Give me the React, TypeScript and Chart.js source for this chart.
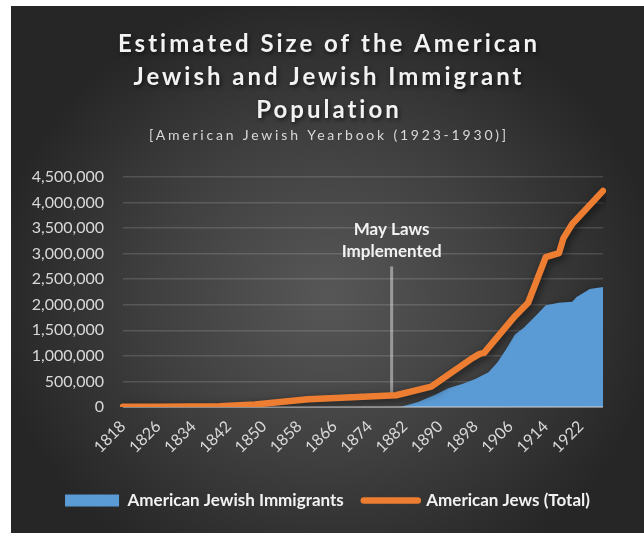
import React, { useEffect, useRef } from 'react';
import { Chart, registerables } from 'chart.js';

// ---------- data ----------
const FIRST_YEAR = 1818;
const LAST_YEAR = 1927;
const years: string[] = [];
for (let y = FIRST_YEAR; y <= LAST_YEAR; y++) years.push(String(y));

const immigrantYears = [1881, 1885, 1889, 1892, 1895, 1898, 1901, 1903, 1905, 1907, 1909, 1912, 1914, 1917, 1920, 1921, 1924, 1927];
const immigrantValues = [0, 100000, 245000, 370000, 450000, 550000, 680000, 870000, 1130000, 1420000, 1550000, 1810000, 1990000, 2040000, 2060000, 2150000, 2310000, 2350000];

const totalYears = [1818, 1826, 1840, 1848, 1860, 1880, 1888, 1897, 1899, 1900, 1907, 1910, 1914, 1917, 1918, 1920, 1927];
const totalValues = [3000, 6000, 15000, 50000, 150000, 230000, 400000, 938000, 1040000, 1058000, 1777000, 2040000, 2933000, 3010000, 3300000, 3580000, 4228000];

const Y_MIN = 0;
const Y_MAX = 4500000;
const Y_STEP = 500000;
const LABEL_EVERY = 8;

const TITLE_LINES = ['Estimated Size of the American', 'Jewish and Jewish Immigrant', 'Population'];
const SUBTITLE = '[American Jewish Yearbook (1923-1930)]';
const SERIES_NAMES = ['American Jewish Immigrants', 'American Jews (Total)'];

const ANNOTATION_YEAR = '1879';
const ANNOTATION_TOP = 2750000;
const ANNOTATION_BOTTOM = 240000;
const ANNOTATION_LINES = ['May Laws', 'Implemented'];

// ---------- styles ----------
const BLUE = '#5B9BD5';
const ORANGE = '#ED7D31';
const FONT = 'Lato, "Open Sans", sans-serif';

function toSeries(ys: number[], vs: number[]): (number | null)[] {
  const map = new Map<string, number>();
  ys.forEach((y, i) => map.set(String(y), vs[i]));
  return years.map((y) => (map.has(y) ? (map.get(y) as number) : null));
}

const shadowPlugin = {
  id: 'seriesShadow',
  beforeDatasetDraw(chart: any) {
    const ctx = chart.ctx;
    ctx.save();
    ctx.shadowColor = 'rgba(0,0,0,0.6)';
    ctx.shadowBlur = 8;
    ctx.shadowOffsetX = 2;
    ctx.shadowOffsetY = 3;
  },
  afterDatasetDraw(chart: any, args: any) {
    const ctx = chart.ctx;
    ctx.restore();
    if (args.index === 0) {
      const { left, right } = chart.chartArea;
      const y0 = chart.scales.y.getPixelForValue(0);
      ctx.save();
      ctx.strokeStyle = 'rgba(217,217,217,0.45)';
      ctx.lineWidth = 2;
      ctx.beginPath();
      ctx.moveTo(left, y0);
      ctx.lineTo(right, y0);
      ctx.stroke();
      ctx.restore();
    }
  },
};

Chart.register(shadowPlugin as any);
Chart.register(...registerables);

const titlePlugin = {
  id: 'titleBlock',
  afterDraw(chart: any) {
    const ctx = chart.ctx;
    const cx = chart.width / 2;
    ctx.save();
    ctx.textAlign = 'center';
    ctx.textBaseline = 'alphabetic';
    ctx.shadowColor = 'rgba(0,0,0,0.6)';
    ctx.shadowBlur = 4;
    ctx.shadowOffsetX = 1.5;
    ctx.shadowOffsetY = 2;
    ctx.fillStyle = '#f2f2f2';
    ctx.font = `bold 24px ${FONT}`;
    (ctx as any).letterSpacing = '3px';
    TITLE_LINES.forEach((t, i) => ctx.fillText(t, cx + 1.5, 46 + i * 33));
    ctx.shadowColor = 'transparent';
    ctx.fillStyle = '#d9d9d9';
    ctx.font = `14px ${FONT}`;
    (ctx as any).letterSpacing = '2.8px';
    ctx.fillText(SUBTITLE, cx + 1.4, 134);
    ctx.restore();
  },
};

const annotationPlugin = {
  id: 'mayLaws',
  beforeDatasetsDraw(chart: any) {
    const ctx = chart.ctx;
    const xs = chart.scales.x;
    const ys = chart.scales.y;
    const x = xs.getPixelForValue(years.indexOf(ANNOTATION_YEAR));
    const yTop = ys.getPixelForValue(ANNOTATION_TOP);
    const yBot = ys.getPixelForValue(ANNOTATION_BOTTOM);
    ctx.save();
    ctx.strokeStyle = 'rgba(230,230,230,0.5)';
    ctx.lineWidth = 3;
    ctx.beginPath();
    ctx.moveTo(x, yTop);
    ctx.lineTo(x, yBot);
    ctx.stroke();
    ctx.fillStyle = '#f2f2f2';
    ctx.font = `bold 17px ${FONT}`;
    ctx.textAlign = 'center';
    ctx.textBaseline = 'alphabetic';
    ctx.fillText(ANNOTATION_LINES[0], x, yTop - 31);
    ctx.fillText(ANNOTATION_LINES[1], x, yTop - 9);
    ctx.restore();
  },
};

export default function App() {
  const canvasRef = useRef<HTMLCanvasElement | null>(null);

  useEffect(() => {
    if (!canvasRef.current) return;
    const chart = new Chart(canvasRef.current, {
      type: 'line',
      data: {
        labels: years,
        datasets: [
          {
            label: SERIES_NAMES[0],
            data: toSeries(immigrantYears, immigrantValues),
            fill: 'origin',
            backgroundColor: BLUE,
            borderColor: 'transparent',
            borderWidth: 0,
            pointRadius: 0,
            spanGaps: true,
            tension: 0,
            order: 2,
          },
          {
            label: SERIES_NAMES[1],
            data: toSeries(totalYears, totalValues),
            fill: false,
            borderColor: ORANGE,
            backgroundColor: ORANGE,
            borderWidth: 6.5,
            borderCapStyle: 'round',
            borderJoinStyle: 'round',
            pointRadius: 0,
            spanGaps: true,
            tension: 0,
            order: 1,
          },
        ],
      },
      options: {
        animation: false,
        responsive: true,
        maintainAspectRatio: false,
        layout: { padding: { top: 171, right: 0, bottom: 14, left: 0 } },
        scales: {
          x: {
            offset: false,
            grid: { display: false, drawTicks: false },
            border: { display: false },
            afterFit: (scale: any) => {
              scale.height = 65;
            },
            ticks: {
              autoSkip: false,
              maxRotation: 45,
              minRotation: 45,
              padding: 10,
              color: '#d9d9d9',
              font: { family: FONT, size: 16 },
              callback: (_v: any, i: number) => (i % LABEL_EVERY === 0 ? years[i] : ''),
            },
          },
          y: {
            min: Y_MIN,
            max: Y_MAX,
            grid: { color: 'rgba(255,255,255,0.14)', lineWidth: 1.5, drawTicks: false },
            border: { display: false },
            afterFit: (scale: any) => {
              scale.width = 112;
            },
            ticks: {
              stepSize: Y_STEP,
              padding: 19,
              color: '#d9d9d9',
              font: { family: FONT, size: 16 },
              callback: (v: any) => Number(v).toLocaleString('en-US'),
            },
          },
          yRight: {
            position: 'right',
            display: true,
            grid: { display: false, drawTicks: false },
            border: { display: false },
            ticks: { display: false },
            afterFit: (scale: any) => {
              scale.width = 41;
            },
          },
        },
        plugins: {
          title: { display: false },
          tooltip: { enabled: false },
          legend: {
            position: 'bottom',
            labels: {
              usePointStyle: true,
              pointStyleWidth: 54,
              boxHeight: 12,
              padding: 20,
              color: '#f2f2f2',
              font: { family: FONT, size: 17, weight: 'bold' },
              generateLabels: () => [
                {
                  text: SERIES_NAMES[0],
                  fillStyle: BLUE,
                  strokeStyle: BLUE,
                  lineWidth: 0,
                  pointStyle: 'rect',
                  hidden: false,
                  datasetIndex: 0,
                  fontColor: '#f2f2f2',
                },
                {
                  text: SERIES_NAMES[1],
                  fillStyle: ORANGE,
                  strokeStyle: ORANGE,
                  lineWidth: 6.5,
                  lineCap: 'round',
                  pointStyle: 'line',
                  hidden: false,
                  datasetIndex: 1,
                  fontColor: '#f2f2f2',
                },
              ],
            },
          },
        },
      } as any,
      plugins: [annotationPlugin, titlePlugin] as any,
    });
    return () => chart.destroy();
  }, []);

  return (
    <div
      style={{
        position: 'absolute',
        left: 11,
        top: 6,
        width: 633,
        height: 527,
        background: 'radial-gradient(ellipse at 50% 55%, #575757 0%, #3f3f3f 40%, #262626 75%)',
      }}
    >
      <canvas ref={canvasRef} />
    </div>
  );
}
